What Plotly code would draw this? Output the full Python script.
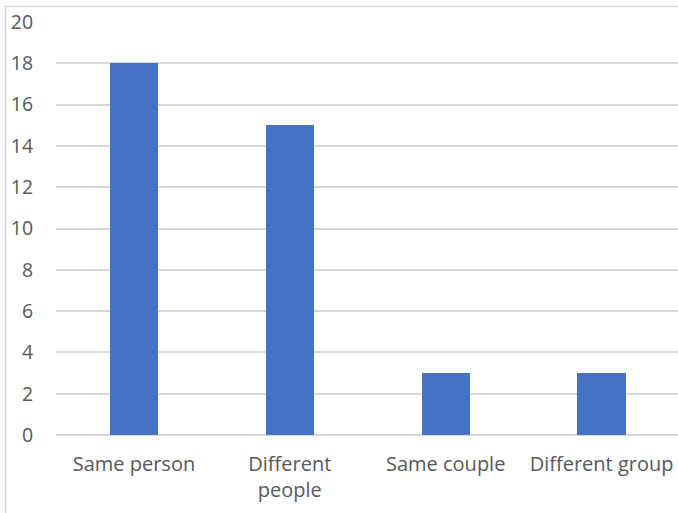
import plotly.graph_objects as go

categories = ["Same person", "Different<br>people", "Same couple", "Different group"]
values = [18, 15, 3, 3]
y_ticks = [0, 2, 4, 6, 8, 10, 12, 14, 16, 18, 20]

W, H = 678, 513
left, right_px = 55.5, 678
top_px, bottom_px = 22, 435
cat_px = 156.0
plot_w = right_px - left
plot_h = bottom_px - top_px

fig = go.Figure(go.Bar(
    x=list(range(len(categories))),
    y=values,
    marker=dict(color="#4472C4", line=dict(width=0)),
    width=0.31,
))

gray = "#595959"
FONT = "'Open Sans', sans-serif"
fig.update_layout(
    width=W, height=H,
    margin=dict(l=left, r=W - right_px, t=top_px, b=H - bottom_px, autoexpand=False),
    paper_bgcolor="white", plot_bgcolor="white",
    font=dict(family=FONT, size=20, color=gray),
    showlegend=False,
    bargap=0,
    xaxis=dict(
        tickmode="array",
        tickvals=list(range(len(categories))),
        ticktext=categories,
        range=[-0.5, -0.5 + plot_w / cat_px],
        showgrid=False, zeroline=False, showline=False,
        ticks="outside", ticklen=11, tickcolor="rgba(0,0,0,0)",
        tickfont=dict(family=FONT, size=20, color=gray),
    ),
    yaxis=dict(
        range=[0, 20],
        tickmode="array", tickvals=y_ticks,
        showgrid=True, gridcolor="#d9d9d9", gridwidth=1.5,
        zeroline=True, zerolinecolor="#d9d9d9", zerolinewidth=1.5,
        showline=False,
        ticks="outside", ticklen=18, tickcolor="rgba(0,0,0,0)",
        tickfont=dict(family=FONT, size=19.5, color=gray),
    ),
)

# chart-area border (light gray), partially cropped at right/bottom like the reference
x0 = (5 - left) / plot_w
y1 = (bottom_px - 6.5) / plot_h
fig.add_shape(type="rect", xref="paper", yref="paper",
              x0=x0, x1=1.2, y0=-0.3, y1=y1,
              line=dict(color="#d9d9d9", width=1.5), fillcolor="rgba(0,0,0,0)",
              layer="below")

fig.write_html("out.html",
               config={"displayModeBar": False},
               post_script="document.body.style.margin='0';document.body.style.overflow='hidden';")
